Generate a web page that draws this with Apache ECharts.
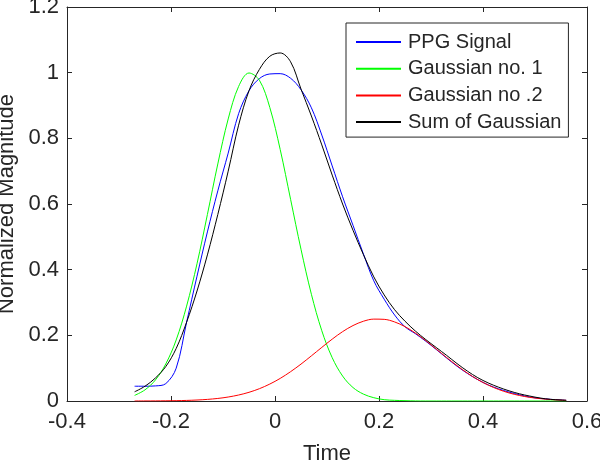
<!DOCTYPE html>
<html>
<head>
<meta charset="utf-8">
<script src="https://cdn.jsdelivr.net/npm/echarts@6/dist/echarts.min.js"></script>
<style>
html,body{margin:0;padding:0;background:#fff;}
#chart{width:600px;height:466px;}
</style>
</head>
<body>
<div id="chart"></div>
<script>
const timeValues = [-0.27,-0.25,-0.23,-0.21,-0.19,-0.17,-0.15,-0.13,-0.11,-0.09,-0.07,-0.05,-0.03,-0.01,0.01,0.03,0.05,0.07,0.09,0.11,0.13,0.15,0.17,0.19,0.21,0.23,0.25,0.27,0.29,0.31,0.33,0.35,0.37,0.39,0.41,0.43,0.45,0.47,0.49,0.51,0.53,0.55,0.56];
const ppgSignal = [0.045,0.045,0.046,0.053,0.10,0.24,0.38,0.515,0.64,0.755,0.875,0.945,0.982,0.996,0.997,0.983,0.948,0.893,0.81,0.716,0.622,0.535,0.448,0.366,0.31,0.262,0.226,0.205,0.182,0.157,0.131,0.106,0.084,0.065,0.049,0.037,0.027,0.019,0.012,0.008,0.005,0.003,0.002];
const gaussian1 = [0.017,0.034,0.064,0.113,0.186,0.289,0.418,0.568,0.722,0.859,0.958,0.999,0.977,0.894,0.766,0.614,0.462,0.325,0.214,0.132,0.076,0.041,0.021,0.010,0.004,0.002,0.001,0.0002,0,0,0,0,0,0,0,0,0,0,0,0,0,0,0];
const gaussian2 = [0.0001,0.0002,0.0003,0.0006,0.001,0.0018,0.003,0.0049,0.0078,0.0121,0.0182,0.0265,0.0375,0.0516,0.0688,0.0893,0.1124,0.1375,0.1633,0.1884,0.2112,0.2298,0.2429,0.2494,0.2487,0.2408,0.2265,0.2069,0.1836,0.1582,0.1324,0.1076,0.0849,0.0651,0.0485,0.0351,0.0246,0.0168,0.0111,0.0072,0.0045,0.0027,0.0021];
const sumGaussian = [0.028,0.045,0.07,0.105,0.16,0.24,0.335,0.445,0.568,0.70,0.84,0.945,1.01,1.05,1.06,1.033,0.95,0.868,0.78,0.688,0.60,0.52,0.446,0.378,0.323,0.278,0.243,0.213,0.187,0.163,0.139,0.114,0.091,0.071,0.055,0.042,0.031,0.022,0.015,0.009,0.005,0.003,0.002];
const seriesNames = ['PPG Signal','Gaussian no. 1','Gaussian no .2','Sum of Gaussian'];
const seriesValues = [ppgSignal, gaussian1, gaussian2, sumGaussian];
const seriesColors = ['#0000ff','#00ff00','#ff0000','#000000'];

const FONT = "'Liberation Sans', Arial, Helvetica, sans-serif";
const AX = '#262626';

const chart = echarts.init(document.getElementById('chart'), null, {renderer:'canvas'});

function xAx(pos, main){
  return {
    type:'value', position:pos, min:-0.4, max:0.6, interval:0.2,
    axisLine:{show:true, onZero:false, lineStyle:{color:AX, width:1}},
    axisTick:{show:true, inside:true, length:5, lineStyle:{color:AX}},
    axisLabel:{show:main, color:AX, fontSize:22, fontFamily:FONT, margin:10},
    splitLine:{show:false},
    name: main ? 'Time' : '',
    nameLocation:'middle', nameGap:42,
    nameTextStyle:{color:AX, fontSize:22, fontFamily:FONT}
  };
}
function yAx(pos, main){
  return {
    type:'value', position:pos, min:0, max:1.2, interval:0.2,
    axisLine:{show:true, onZero:false, lineStyle:{color:AX, width:1}},
    axisTick:{show:true, inside:true, length:5, lineStyle:{color:AX}},
    axisLabel:{show:main, color:AX, fontSize:22, fontFamily:FONT, margin:8},
    splitLine:{show:false},
    name: main ? 'Normalized Magnitude' : '',
    nameLocation:'middle', nameGap:45,
    nameTextStyle:{color:AX, fontSize:22, fontFamily:FONT}
  };
}

const option = {
  animation:false,
  backgroundColor:'#fff',
  grid:{left:67, right:13, top:7, bottom:65, containLabel:false, outerBoundsMode:'none'},
  xAxis:[xAx('bottom', true), xAx('top', false)],
  yAxis:[yAx('left', true), yAx('right', false)],
  legend:{
    orient:'vertical', left:346, top:23,
    padding:[9,7,5,10],
    borderColor:AX, borderWidth:1, backgroundColor:'#fff',
    itemWidth:45, itemHeight:2, itemGap:6.7,
    icon:'rect',
    textStyle:{fontSize:20, lineHeight:20, fontFamily:FONT, color:AX, padding:[0,0,0,2]},
    data: seriesNames
  },
  series: seriesNames.map((n,i)=>({
    name:n, type:'line', xAxisIndex:0, yAxisIndex:0,
    data: timeValues.map((t,j)=>[t, seriesValues[i][j]]),
    showSymbol:false, symbol:'none',
    smooth:0.35,
    color:seriesColors[i],
    lineStyle:{color:seriesColors[i], width:1},
    itemStyle:{color:seriesColors[i]}
  }))
};
chart.setOption(option);
</script>
</body>
</html>
